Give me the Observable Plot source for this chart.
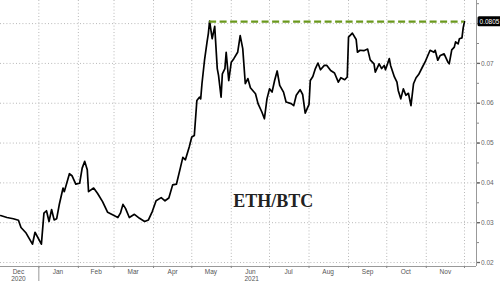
<!DOCTYPE html>
<html><head><meta charset="utf-8">
<script src="https://cdn.jsdelivr.net/npm/d3@7"></script>
<script src="https://cdn.jsdelivr.net/npm/@observablehq/plot@0.6"></script>
<style>html,body{margin:0;padding:0;background:#fff}svg{display:block}</style>
</head><body><div id="chart"></div>
<script>
const dates = [
"2020-12-02","2020-12-07","2020-12-12","2020-12-16","2020-12-18","2020-12-22","2020-12-27","2020-12-29",
"2021-01-03","2021-01-05","2021-01-07","2021-01-09","2021-01-11","2021-01-13","2021-01-15","2021-01-17","2021-01-20","2021-01-21","2021-01-25","2021-01-27","2021-01-30",
"2021-02-02","2021-02-04","2021-02-06","2021-02-08","2021-02-09","2021-02-13","2021-02-16","2021-02-20","2021-02-24",
"2021-03-01","2021-03-04","2021-03-06","2021-03-08","2021-03-10","2021-03-13","2021-03-17","2021-03-21","2021-03-25","2021-03-28","2021-03-31",
"2021-04-03","2021-04-07","2021-04-10","2021-04-13","2021-04-16","2021-04-19","2021-04-22","2021-04-24","2021-04-26","2021-04-29",
"2021-05-01","2021-05-03","2021-05-05","2021-05-07","2021-05-08","2021-05-09","2021-05-11","2021-05-13","2021-05-14","2021-05-15","2021-05-17","2021-05-19","2021-05-21","2021-05-22","2021-05-24","2021-05-25","2021-05-27","2021-05-28","2021-05-30",
"2021-06-01","2021-06-03","2021-06-06","2021-06-08","2021-06-10","2021-06-12","2021-06-14","2021-06-16","2021-06-20","2021-06-22","2021-06-25","2021-06-27","2021-06-29",
"2021-07-01","2021-07-03","2021-07-05","2021-07-07","2021-07-09","2021-07-12","2021-07-14","2021-07-18","2021-07-20","2021-07-22","2021-07-25","2021-07-27","2021-07-29",
"2021-08-01","2021-08-02","2021-08-04","2021-08-06","2021-08-08","2021-08-10","2021-08-13","2021-08-15","2021-08-18","2021-08-21","2021-08-24","2021-08-26","2021-08-29","2021-08-31",
"2021-09-01","2021-09-04","2021-09-07","2021-09-08","2021-09-10","2021-09-13","2021-09-16","2021-09-18","2021-09-21","2021-09-22","2021-09-25","2021-09-27","2021-09-29","2021-09-30",
"2021-10-03","2021-10-04","2021-10-07","2021-10-09","2021-10-10","2021-10-12","2021-10-14","2021-10-16","2021-10-18","2021-10-20","2021-10-22","2021-10-24","2021-10-26","2021-10-29","2021-10-31",
"2021-11-04","2021-11-07","2021-11-08","2021-11-10","2021-11-12","2021-11-15","2021-11-18","2021-11-19","2021-11-21","2021-11-23","2021-11-24","2021-11-26","2021-11-27","2021-11-29","2021-11-30","2021-12-01"
];
const values = [
0.0318,0.0313,0.0310,0.0306,0.0288,0.0274,0.0246,0.0276,
0.0246,0.0324,0.0330,0.0303,0.0333,0.0307,0.0310,0.0345,0.0387,0.0378,0.0423,0.0418,0.0397,
0.0399,0.0437,0.0454,0.0433,0.0378,0.0387,0.0374,0.0353,0.0326,
0.0318,0.0313,0.0324,0.0346,0.0336,0.0313,0.0321,0.0311,0.0303,0.0307,0.0328,
0.0355,0.0363,0.0355,0.0362,0.0395,0.0397,0.0437,0.0464,0.0458,0.0490,
0.0515,0.0519,0.0607,0.0615,0.0611,0.0649,0.0708,0.0754,0.0775,0.0806,0.0762,0.0793,0.0687,0.0670,0.0615,0.0674,0.0687,0.0728,0.0657,
0.0703,0.0712,0.0728,0.0770,0.0737,0.0649,0.0662,0.0639,0.0624,0.0599,0.0578,0.0561,0.0611,
0.0636,0.0628,0.0657,0.0681,0.0645,0.0628,0.0603,0.0599,0.0594,0.0620,0.0634,0.0622,0.0575,
0.0597,0.0657,0.0667,0.0687,0.0701,0.0684,0.0695,0.0695,0.0682,0.0676,0.0653,0.0664,0.0659,0.0666,
0.0766,0.0776,0.0760,0.0728,0.0733,0.0732,0.0736,0.0709,0.0699,0.0678,0.0699,0.0687,0.0695,0.0684,
0.0712,0.0695,0.0666,0.0653,0.0632,0.0611,0.0636,0.0620,0.0625,0.0594,0.0649,0.0664,0.0672,0.0691,0.0703,
0.0733,0.0728,0.0733,0.0708,0.0720,0.0724,0.0703,0.0699,0.0734,0.0741,0.0754,0.0749,0.0762,0.0764,0.0790,0.0805
];
const monthStarts = ["2021-01-01","2021-02-01","2021-03-01","2021-04-01","2021-05-01","2021-06-01","2021-07-01","2021-08-01","2021-09-01","2021-10-01","2021-11-01","2021-12-01"];
const monthLabels = ["Dec","Jan","Feb","Mar","Apr","May","Jun","Jul","Aug","Sep","Oct","Nov"];
const monthLabelDates = ["2020-12-16","2021-01-16","2021-02-15","2021-03-16","2021-04-16","2021-05-16","2021-06-16","2021-07-16","2021-08-16","2021-09-16","2021-10-16","2021-11-16"];
const yearLabels = ["2020","2021"];
const yearLabelDates = ["2020-12-16","2021-06-17"];
const yearBreak = ["2021-01-01"];
const gridValues = [0.02,0.03,0.04,0.05,0.06,0.07,0.08];
const tickLabelValues = [0.02,0.03,0.04,0.05,0.06,0.07];
const minorTickValues = [0.02,0.025,0.03,0.035,0.04,0.045,0.05,0.055,0.06,0.065,0.07,0.075,0.08,0.085];
const peakValue = 0.0805;
const peakStart = "2021-05-15";
const peakEnd = "2021-12-01";
const titleText = "ETH/BTC";
const titleDate = "2021-07-04";
const titleValue = 0.0353;

const parse = d3.utcParse("%Y-%m-%d");
const data = dates.map((d, i) => ({date: parse(d), value: values[i]}));
const xDomain = [new Date(Date.UTC(2020, 11, 1, 22)), new Date(Date.UTC(2021, 11, 10, 10))];
const yDomain = [0.019, 0.0858];

const chart = Plot.plot({
  width: 500, height: 282,
  marginLeft: 0, marginRight: 24, marginTop: 0, marginBottom: 16,
  style: {fontFamily: "'Liberation Sans', Arial, sans-serif", fontSize: "6.5px", background: "#fff", overflow: "visible", color: "#555"},
  x: {type: "utc", domain: xDomain, label: null},
  y: {domain: yDomain, label: null},
  marks: [
    Plot.gridX(monthStarts.map(parse), {stroke: "#b8b8b8", strokeOpacity: 1, strokeWidth: 1, strokeDasharray: "1,2.2"}),
    Plot.gridY(gridValues, {stroke: "#b8b8b8", strokeOpacity: 1, strokeWidth: 1, strokeDasharray: "1,2.2"}),
    Plot.ruleY([yDomain[0]], {stroke: "#999", strokeWidth: 1}),
    Plot.ruleX([xDomain[1]], {stroke: "#999", strokeWidth: 1}),
    Plot.axisY(minorTickValues, {anchor: "right", tickSize: 2, tickFormat: () => "", stroke: "#888", label: null}),
    Plot.axisY(tickLabelValues, {anchor: "right", tickSize: 3, tickPadding: 1.5, tickFormat: d3.format(".2f"), stroke: "#666", fill: "#666", strokeWidth: 1.3, label: null}),
    Plot.axisX(monthStarts.map(parse), {tickSize: 2, tickFormat: () => "", stroke: "#888", label: null}),
    Plot.axisX(yearBreak.map(parse), {tickSize: 15, tickFormat: () => "", stroke: "#999", label: null}),
    Plot.text(monthLabels, {x: (d, i) => parse(monthLabelDates[i]), text: d => d, frameAnchor: "bottom", dy: 5.5, lineAnchor: "middle", fill: "#555", fontSize: 6.5}),
    Plot.text(yearLabels, {x: (d, i) => parse(yearLabelDates[i]), text: d => d, frameAnchor: "bottom", dy: 12.5, lineAnchor: "middle", fill: "#555", fontSize: 6.5}),
    Plot.text([titleText], {x: parse(titleDate), y: titleValue, text: d => d, fontFamily: "'Liberation Serif', 'DejaVu Serif', serif", fontWeight: "bold", fontSize: 18, fill: "#222"}),
    Plot.line(data, {x: "date", y: "value", stroke: "#000", strokeWidth: 1.7, strokeLinejoin: "round"}),
    Plot.ruleY([peakValue], {x1: parse(peakStart), x2: parse(peakEnd), stroke: "#6a981c", strokeWidth: 2.3, strokeDasharray: "7,3.5"}),
    Plot.text([peakValue], {x: parse(peakEnd), y: d => d, text: d => d.toFixed(4), dx: 25, fill: "#fff", fontSize: 6.5, className: "lastlabel"})
  ]
});
document.getElementById("chart").appendChild(chart);
// add a black box behind the last-value label, sized to its text
document.querySelectorAll(".lastlabel text").forEach(t => {
  const b = t.getBBox();
  const padX = 2, padY = 1.5;
  const rect = document.createElementNS("http://www.w3.org/2000/svg", "rect");
  rect.setAttribute("x", b.x - padX);
  rect.setAttribute("y", b.y - padY);
  rect.setAttribute("width", b.width + 2 * padX);
  rect.setAttribute("height", b.height + 2 * padY);
  rect.setAttribute("rx", 1.5);
  rect.setAttribute("fill", "#000");
  const tr = t.getAttribute("transform");
  if (tr) rect.setAttribute("transform", tr);
  t.parentNode.insertBefore(rect, t);
});
</script>
</body></html>
